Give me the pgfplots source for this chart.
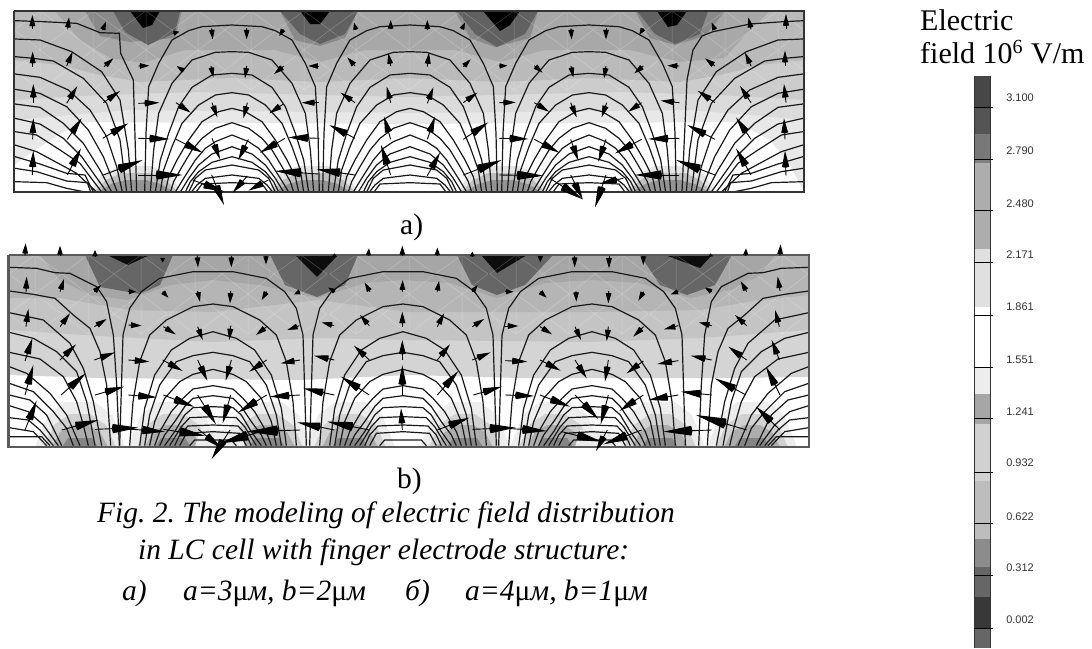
\documentclass[border=0pt]{standalone}
\usepackage{fontspec}
\setmainfont{Liberation Serif}
\newfontfamily\sansf{Liberation Sans}
\usepackage{pgfplots}
\usepackage{pgfplotstable}
\pgfplotsset{compat=1.18}
\usetikzlibrary{arrows.meta}
\frenchspacing
\newcommand\band[2]{\addplot[fill=black!#1,draw=none,forget plot] coordinates {#2};}
\pgfplotstableread{
dx y
0 75
90 80
130 92
180 120
220 190
250 260
258 400
262 576
nan nan
0 155
50 157
120 180
180 250
220 340
235 450
245 576
nan nan
0 220
60 225
120 262
160 320
190 400
215 480
230 576
nan nan
0 278
50 285
100 315
150 370
180 440
205 510
215 576
nan nan
0 325
40 335
90 365
130 420
165 480
190 530
200 576
nan nan
0 368
50 385
90 415
120 450
150 500
175 545
185 576
nan nan
0 405
50 425
80 445
110 480
145 535
170 576
nan nan
0 440
60 462
100 495
130 535
155 576
nan nan
0 470
60 487
100 515
125 545
140 576
nan nan
0 495
80 510
110 535
130 576
nan nan
0 525
80 535
105 555
122 576
nan nan
0 548
90 552
108 576
}\archA
\pgfplotstableread{
dx y
45 62
130 65
230 70
300 98
358 100
362 160
400 240
410 576
}\sideAone
\pgfplotstableread{
dx y
45 117
120 120
215 155
305 215
360 300
385 450
395 576
nan nan
45 170
100 175
160 183
250 235
320 310
360 420
380 576
nan nan
45 222
120 232
205 270
270 330
320 410
350 500
367 576
nan nan
45 268
120 280
200 320
265 390
310 470
352 576
nan nan
45 312
120 322
190 370
250 430
300 510
335 576
nan nan
45 355
120 372
190 415
245 470
320 576
nan nan
45 395
110 405
180 450
240 490
305 576
nan nan
45 435
110 455
175 490
230 520
290 576
nan nan
45 470
120 492
200 520
255 525
280 576
nan nan
45 505
110 515
200 543
262 548
272 576
nan nan
45 545
140 548
200 565
255 576
}\sideA
\pgfplotstableread{
dx y
0 110
60 110
160 130
215 170
250 220
270 300
280 632
nan nan
0 207
60 215
140 255
190 300
220 380
240 500
250 632
nan nan
0 290
70 310
125 345
175 420
205 520
220 632
nan nan
0 352
60 362
110 380
160 450
190 540
205 632
nan nan
0 403
60 418
100 440
145 490
175 560
190 632
nan nan
0 452
60 462
90 490
125 530
160 590
175 632
nan nan
0 482
60 490
85 515
115 560
145 600
160 632
nan nan
0 515
60 518
85 540
115 590
145 632
nan nan
0 545
70 548
95 575
130 632
nan nan
0 570
75 573
100 600
115 632
nan nan
0 590
80 595
100 632
nan nan
0 615
55 615
70 632
}\archB
\pgfplotstableread{
dx y
28 97
110 100
165 113
210 115
290 155
320 200
340 300
350 450
358 632
nan nan
28 168
100 178
165 190
220 240
270 280
300 350
320 450
332 632
nan nan
28 233
130 255
210 325
250 400
280 500
305 632
nan nan
28 292
100 310
170 350
230 410
260 500
285 632
nan nan
28 352
120 372
190 425
230 500
250 570
265 632
nan nan
28 395
80 415
150 475
200 540
240 632
nan nan
28 445
100 470
160 530
200 580
220 632
nan nan
28 480
90 495
140 540
185 632
nan nan
28 512
85 530
130 570
175 632
nan nan
28 548
85 555
120 585
160 632
nan nan
28 578
100 590
140 632
nan nan
28 605
125 605
150 632
}\sideB
\pgfplotstableread{
xa ya xb yb
97 88 97 45
98 200 98 155
100 308 100 252
98 418 100 355
97 525 100 452
203 88 207 52
200 198 218 155
200 310 232 258
202 418 245 355
202 525 243 445
308 90 318 65
312 200 340 175
310 308 360 273
308 415 385 370
310 525 428 480
415 198 448 197
415 310 478 308
415 415 508 417
415 525 548 525
520 100 538 95
552 213 530 198
528 308 572 338
528 418 608 458
578 540 672 575
635 85 638 118
633 198 640 232
636 308 652 352
636 415 660 478
635 525 672 615
740 85 740 118
740 198 735 235
742 308 730 355
745 418 715 480
742 528 698 578
850 88 838 108
852 198 822 222
850 312 808 340
855 415 780 458
805 540 745 572
958 198 925 198
958 308 905 308
958 415 865 412
955 522 825 513
1068 90 1062 68
1065 198 1042 172
1065 308 1022 278
1065 415 988 375
1065 525 950 508
1172 88 1172 60
1172 198 1165 160
1172 308 1160 260
1172 418 1152 350
1172 525 1143 435
}\arrAL
\pgfplotstableread{
xa ya xb yb
82 90 82 60
82 200 87 158
82 310 100 262
82 418 105 350
82 527 120 458
185 88 195 68
190 200 212 178
190 308 232 278
190 418 265 367
190 525 305 480
297 198 322 197
298 308 347 307
298 415 385 417
298 525 430 527
403 197 428 218
403 308 447 335
403 418 478 458
450 535 548 598
513 85 515 118
513 198 520 232
512 308 530 352
512 418 535 482
512 525 548 598
618 85 618 118
618 198 612 235
620 308 605 352
618 418 595 485
618 525 585 622
730 85 718 105
730 198 703 220
725 308 685 335
725 418 645 460
670 535 605 548
838 198 802 197
838 308 782 302
838 415 745 417
838 525 705 525
945 90 935 68
945 198 915 175
945 308 893 272
945 418 862 375
945 525 828 480
1053 88 1045 52
1053 198 1035 158
1053 308 1020 258
1053 418 1008 352
1053 525 1008 445
1158 88 1158 42
1155 198 1155 152
1158 308 1152 252
1155 418 1152 355
1158 527 1155 452
}\arrAR
\pgfplotstableread{
xa ya xb yb
75 62 77 25
78 172 80 125
78 275 85 222
75 378 97 310
75 480 100 390
75 585 110 497
180 62 180 32
180 170 192 132
180 275 210 235
180 375 228 328
183 480 257 415
185 585 295 555
285 65 285 45
283 170 303 150
283 275 320 252
283 375 345 352
285 480 372 455
285 583 415 578
385 170 408 170
385 270 425 272
385 375 448 380
385 480 470 487
385 582 495 590
488 68 488 82
488 170 505 188
490 275 527 298
488 375 548 408
490 480 582 515
490 583 615 602
592 62 594 97
593 168 600 200
593 275 608 315
593 375 622 437
593 480 648 568
595 583 665 640
694 62 694 97
692 168 690 205
692 272 688 315
694 375 677 437
692 480 668 565
690 585 635 672
798 62 798 88
800 170 785 195
800 275 768 300
800 375 748 410
800 480 715 532
800 585 660 625
900 170 882 178
898 272 862 285
900 375 842 385
900 480 810 485
900 585 740 590
1003 65 1003 55
1005 170 985 158
1003 272 965 262
1003 375 942 362
1003 480 910 460
1003 585 892 562
1105 62 1107 40
1110 170 1094 143
1108 272 1080 240
1108 375 1062 332
1108 480 1023 425
1108 585 982 560
1207 62 1207 32
1207 170 1208 135
1207 275 1207 230
1207 375 1207 315
1207 482 1207 390
1207 585 1203 520
}\arrBL
\pgfplotstableread{
xa ya xb yb
112 62 112 38
112 170 117 138
112 275 132 235
112 375 150 328
112 480 175 408
112 585 208 548
217 65 217 50
217 170 233 150
217 275 252 252
217 375 272 352
220 480 305 455
218 583 347 578
316 170 340 170
316 273 355 273
316 377 382 380
316 480 402 483
320 580 440 588
421 62 421 82
420 170 440 188
420 275 456 298
420 375 482 407
420 480 510 515
485 590 605 620
524 62 524 97
528 168 529 200
525 275 543 315
525 375 560 430
525 480 595 552
627 62 627 100
626 168 625 205
625 275 620 318
625 375 615 440
625 480 602 568
622 585 588 648
730 62 730 90
731 170 715 197
731 275 700 305
730 378 680 415
730 480 658 528
725 585 610 628
835 170 812 178
835 272 792 283
835 377 772 387
835 480 745 495
935 585 790 590
932 65 932 55
935 170 915 158
935 272 897 262
935 375 872 362
935 480 843 470
1040 585 888 540
1040 170 1022 138
1040 272 1005 240
1040 375 985 335
1038 480 945 430
1037 62 1038 40
1140 62 1142 28
1140 168 1133 125
1138 275 1125 225
1138 375 1115 315
1140 480 1098 395
1140 585 1068 515
}\arrBR
\pgfplotstableread{
x y
-79 30
-53 11
-26 30
0 11
26 30
53 11
79 30
nan nan
-79 30
-53 50
-26 30
0 50
26 30
53 50
79 30
nan nan
-79 70
-53 50
-26 70
0 50
26 70
53 50
79 70
nan nan
-79 70
-53 90
-26 70
0 90
26 70
53 90
79 70
nan nan
0 11
0 90
nan nan
-53 11
-53 90
nan nan
53 11
53 90
}\mesh
\newcommand\quiv[3]{\addplot[black,line width=0.9pt,forget plot,
  point meta={sqrt((\thisrow{xb}-\thisrow{xa})^2+(\thisrow{yb}-\thisrow{ya})^2)/3},
  quiver={u=(\thisrow{xb}-\thisrow{xa})/3,v=(\thisrow{yb}-\thisrow{ya})/3,
  every arrow/.append style={-{Kite[length=100pt,width=100pt,inset=4pt,
    scale length={min(0.95*\pgfplotspointmetatransformed/1000,0.04+0.52*\pgfplotspointmetatransformed/1000)},
    scale width={0.045+0.11*\pgfplotspointmetatransformed/1000}]}}}]
  table[x expr=#2+\thisrow{xa}/3,y expr=#3+\thisrow{ya}/3]{#1};}
\newcommand\lineplot[2]{\addplot[black!90,line width=1.2pt,unbounded coords=jump,forget plot] table[x expr=#2,y expr=\thisrow{y}/3]{#1};}
\newcommand\lineplotB[2]{\addplot[black!90,line width=1.2pt,unbounded coords=jump,forget plot] table[x expr=#2,y expr=235+\thisrow{y}/3]{#1};}
\begin{document}
\begin{tikzpicture}
\begin{axis}[hide axis,scale only axis,x=1pt,y=1pt,xmin=0,xmax=1092,ymin=0,ymax=648,y dir=reverse,
 enlargelimits=false,point meta min=0,point meta max=100]
% ---------- panel a shading
\band{0}{(14,11) (804,11) (804,192) (14,192)}
\band{9}{(14,165) (35,150) (80,122) (409,124) (735,122) (770,140) (790,165) (804,192) (804,11) (14,11)}
\band{14}{(14,120) (70,115) (130,110) (409,113) (690,110) (750,115) (804,120) (804,11) (14,11)}
\band{20}{(14,100) (100,95) (200,92) (409,97) (620,92) (720,95) (804,100) (804,11) (14,11)}
\band{27}{(14,60) (60,65) (100,75) (140,82) (230,78) (320,82) (409,78) (500,82) (589,78) (680,82) (720,75) (760,65) (804,60) (804,11) (14,11)}
\band{34}{(55,11) (80,40) (110,58) (143,63) (185,50) (230,50) (275,50) (320,62) (365,50) (409,50) (455,50) (500,62) (545,50) (589,50) (630,50) (680,62) (725,58) (745,35) (770,11)}
\band{46}{(85,11) (100,36) (130,42) (175,38) (182,11)}
\band{46}{(280,11) (295,40) (320,46) (345,38) (358,11)}
\band{46}{(455,11) (470,38) (495,47) (530,38) (538,11)}
\band{46}{(635,11) (650,38) (675,45) (705,36) (725,11)}
\band{62}{(113,11) (125,32) (148,45) (175,33) (180,11)}
\band{62}{(280,11) (300,34) (320,44) (345,34) (358,11)}
\band{62}{(457,11) (475,34) (497,47) (525,34) (538,11)}
\band{62}{(637,11) (655,34) (675,44) (700,34) (708,11)}
\band{100}{(130,11) (143,28) (152,25) (160,11)}
\band{100}{(300,11) (310,24) (320,24) (330,11)}
\band{100}{(483,11) (500,31) (510,25) (520,11)}
\band{100}{(657,11) (668,27) (677,25) (687,11)}
\pgfplotstableread{
x y
-45 192
-35 175
-15 166
15 166
35 175
45 192
}\moundAa
\pgfplotstableread{
x y
-42 192
-30 180
-15 173
15 173
30 180
42 192
}\moundAb
\pgfplotstableread{
x y
-38 192
-25 184
-10 180
10 180
25 184
38 192
}\moundAc
\pgfplotsinvokeforeach{136,313,503,670}{
 \addplot[fill=black!10,draw=none,forget plot] table[x expr=\thisrow{x}+#1,y=y]{\moundAa};
 \addplot[fill=black!25,draw=none,forget plot] table[x expr=\thisrow{x}+#1,y=y]{\moundAb};
 \addplot[fill=black!42,draw=none,forget plot] table[x expr=\thisrow{x}+#1,y=y]{\moundAc};
}
\pgfplotsinvokeforeach{93,251,409,567,725}{
 \addplot[white,opacity=0.25,line width=0.5pt,unbounded coords=jump,forget plot] table[x expr=\thisrow{x}+#1,y=y]{\mesh};
}
% ---------- panel b shading
\band{0}{(8.5,255) (809,255) (809,447) (8.5,447)}
\band{17}{(8.5,375) (100,378) (300,380) (409,375) (520,378) (720,378) (809,377) (809,255) (8.5,255)}
\band{23}{(8.5,330) (100,336) (213,342) (320,338) (409,340) (590,342) (700,338) (809,330) (809,255) (8.5,255)}
\band{29}{(8.5,298) (60,298) (130,310) (213,312) (318,300) (409,312) (590,312) (700,310) (760,300) (809,295) (809,255) (8.5,255)}
\band{35}{(40,255) (60,280) (90,295) (128,300) (170,285) (213,280) (260,285) (318,298) (365,283) (403,280) (450,283) (497,298) (545,283) (592,280) (640,283) (690,298) (730,290) (760,275) (775,255)}
\band{60}{(85,255) (100,287) (140,294) (160,285) (173,255)}
\band{60}{(270,255) (285,285) (317,297) (345,285) (358,255)}
\band{60}{(457,255) (472,285) (497,295) (525,285) (553,255)}
\band{60}{(640,255) (660,285) (687,295) (715,285) (732,255)}
\band{95}{(107,255) (128,265) (150,255)}
\band{95}{(295,255) (317,277) (338,255)}
\band{95}{(481,255) (497,273) (527,255)}
\band{95}{(665,255) (700,268) (712,255)}
\pgfplotstableread{
x y
-45 447
-32 415
-15 402
15 402
32 415
45 447
}\moundBa
\pgfplotstableread{
x y
-36 447
-26 425
-10 414
10 414
26 425
36 447
}\moundBb
\pgfplotstableread{
x y
-28 447
-20 432
-8 425
8 425
20 432
28 447
}\moundBc
\pgfplotstableread{
x y
-18 447
-12 438
12 438
18 447
}\moundBd
\pgfplotsinvokeforeach{80,173,267,350,465,555,660,752}{
 \addplot[fill=black!7,draw=none,forget plot] table[x expr=\thisrow{x}+#1,y=y]{\moundBa};
 \addplot[fill=black!18,draw=none,forget plot] table[x expr=\thisrow{x}+#1,y=y]{\moundBb};
 \addplot[fill=black!32,draw=none,forget plot] table[x expr=\thisrow{x}+#1,y=y]{\moundBc};
 \addplot[fill=black!48,draw=none,forget plot] table[x expr=\thisrow{x}+#1,y=y]{\moundBd};
}
\band{8}{(195,447) (200,430) (240,430) (245,447)}
\band{8}{(575,447) (580,430) (610,430) (615,447)}
\pgfplotsinvokeforeach{88,248,409,569,729}{
 \addplot[white,opacity=0.25,line width=0.5pt,unbounded coords=jump,forget plot] table[x expr=\thisrow{x}+#1,y expr=\thisrow{y}+244]{\mesh};
}
% ---------- contour lines
\pgfplotsinvokeforeach{232,410,589}{
 \lineplot{\archA}{#1+\thisrow{dx}/3}
 \lineplot{\archA}{#1-\thisrow{dx}/3}
}
\lineplot{\sideA}{\thisrow{dx}/3}
\lineplot{\sideA}{818-\thisrow{dx}/3}
\lineplot{\sideAone}{\thisrow{dx}/3}
\addplot[black!90,line width=1.2pt,forget plot] coordinates {(804,20.7) (783,21.7) (750,24) (713,31.7) (702,36) (693,50) (687,80) (682,192)};
\pgfplotsinvokeforeach{213,403,592}{
 \lineplotB{\archB}{#1+\thisrow{dx}/3}
 \lineplotB{\archB}{#1-\thisrow{dx}/3}
}
\lineplotB{\sideB}{\thisrow{dx}/3}
\lineplotB{\sideB}{818-\thisrow{dx}/3}
\addplot[black!80,line width=2pt,forget plot] coordinates {(14,11) (804,11) (804,192) (14,192) (14,11)};
\addplot[black!65,line width=2.2pt,forget plot] coordinates {(8.5,255) (809,255) (809,447) (8.5,447) (8.5,255)};
\quiv{\arrAL}{0}{0}
\quiv{\arrAR}{400}{0}
\quiv{\arrBL}{0}{235}
\quiv{\arrBR}{400}{235}
% ---------- colour bar
\band{72}{(974,76) (990,76) (990,107) (974,107)}
\band{67}{(974,107) (990,107) (990,134) (974,134)}
\band{53}{(974,134) (990,134) (990,159) (974,159)}
\band{50}{(974,159) (990,159) (990,163) (974,163)}
\band{32}{(974,163) (990,163) (990,249) (974,249)}
\band{12}{(974,249) (990,249) (990,307) (974,307)}
\band{0}{(974,307) (990,307) (990,367) (974,367)}
\band{7}{(974,367) (990,367) (990,394) (974,394)}
\band{35}{(974,394) (990,394) (990,424) (974,424)}
\band{18}{(974,424) (990,424) (990,481) (974,481)}
\band{26}{(974,481) (990,481) (990,539) (974,539)}
\band{45}{(974,539) (990,539) (990,567) (974,567)}
\band{60}{(974,567) (990,567) (990,597) (974,597)}
\band{78}{(974,597) (990,597) (990,628) (974,628)}
\band{60}{(974,628) (990,628) (990,648) (974,648)}
\addplot[black!80,line width=1pt,forget plot] coordinates {(974.5,76) (974.5,648)};
\addplot[black!80,line width=1pt,forget plot] coordinates {(990,76) (990,648)};
\pgfplotsinvokeforeach{107,159,210,262,315,367,418,472,523,575,628}{
 \addplot[black,line width=1pt,forget plot] coordinates {(974,#1) (993,#1)};
}
\foreach \yy/\tt in {98/3.100,151/2.790,204/2.480,255/2.171,307/1.861,360/1.551,412/1.241,463/0.932,517/0.622,568/0.312,620/0.002}{
 \edef\temp{\noexpand\node[anchor=center,inner sep=0,text=black!80,font=\noexpand\sansf\noexpand\fontsize{11}{12}\noexpand\selectfont] at (axis cs:1020,\yy) {\tt};}\temp
}
\newcommand\T{\fontsize{29.5}{31}\selectfont}
\newcommand\TT{\fontsize{30}{32}\selectfont}
\node[anchor=base west,inner sep=0,font=\TT] at (axis cs:920,30) {Electric};
\node[anchor=base west,inner sep=0,font=\TT] at (axis cs:920,63) {field 10\raisebox{10pt}{\fontsize{20}{20}\selectfont 6}\hspace{1pt} V/m};
\node[anchor=base west,inner sep=0,font=\T] at (axis cs:400,234) {a)};
\node[anchor=base west,inner sep=0,font=\T] at (axis cs:397,488) {b)};
\node[anchor=base west,inner sep=0,font=\T\itshape] at (axis cs:97,522) {Fig. 2. The modeling of electric field distribution};
\node[anchor=base west,inner sep=0,font=\T\itshape] at (axis cs:138,559) {in LC cell with finger electrode structure:};
\node[anchor=base west,inner sep=0,font=\T\itshape] at (axis cs:122,600) {a)};
\node[anchor=base west,inner sep=0,font=\T\itshape] at (axis cs:183,600) {a=3{\upshape μ}м, b=2{\upshape μ}м};
\node[anchor=base west,inner sep=0,font=\T\itshape] at (axis cs:405,600) {б)};
\node[anchor=base west,inner sep=0,font=\T\itshape] at (axis cs:465,600) {a=4{\upshape μ}м, b=1{\upshape μ}м};
\end{axis}
\pgfresetboundingbox
\path[use as bounding box] (0,0) rectangle (1092pt,648pt);
\end{tikzpicture}
\end{document}
